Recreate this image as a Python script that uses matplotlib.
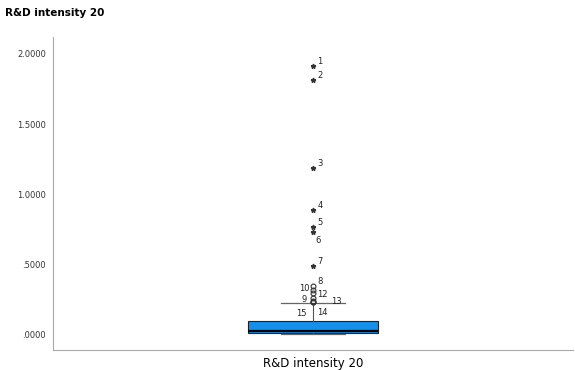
import matplotlib.pyplot as plt
from matplotlib.ticker import FuncFormatter

# box summary
var_name = "R&D intensity 20"
q1, median, q3 = 0.014, 0.028, 0.100
whisker_lo, whisker_hi = 0.005, 0.228

# outliers (o) and extremes (*) with case labels
extreme_ids = ["1", "2", "3", "4", "5", "6", "7"]
extreme_vals = [1.915, 1.815, 1.19, 0.89, 0.77, 0.73, 0.49]
outlier_ids = ["8", "10", "12", "9", "13", "14", "15"]
outlier_vals = [0.35, 0.32, 0.30, 0.26, 0.245, 0.237, 0.232]

# label offsets in points (dx, dy)
label_offsets = {
    "1": (3, 3), "2": (3, 3), "3": (3, 3), "4": (3, 3), "5": (3, 3),
    "6": (2, -6), "7": (3, 3), "8": (3, 3), "10": (-10, 1), "12": (3, -1),
    "9": (-8, -1), "13": (13, -1), "14": (3, -8), "15": (-12, -8),
}

fig = plt.figure(figsize=(5.75, 3.7), dpi=100)
ax = fig.add_axes([0.092, 0.054, 0.905, 0.846])

stats = [{
    "med": median, "q1": q1, "q3": q3,
    "whislo": whisker_lo, "whishi": whisker_hi, "fliers": [],
}]
ax.bxp(stats, positions=[1], widths=0.25, patch_artist=True, showfliers=False,
       boxprops=dict(facecolor="#1590ea", edgecolor="#222222", linewidth=0.8),
       medianprops=dict(color="black", linewidth=1.6),
       whiskerprops=dict(color="#555555", linewidth=0.8),
       capprops=dict(color="#666666", linewidth=0.9),
       capwidths=0.122)

ax.plot([1] * len(extreme_vals), extreme_vals, linestyle="none", marker="*",
        markersize=3.5, color="#333333")
ax.plot([1] * len(outlier_vals), outlier_vals, linestyle="none", marker="o",
        markersize=3.5, markerfacecolor="none", markeredgecolor="#333333",
        markeredgewidth=0.8)

for ids, vals in ((extreme_ids, extreme_vals), (outlier_ids, outlier_vals)):
    for i, v in zip(ids, vals):
        dx, dy = label_offsets[i]
        ax.annotate(i, (1, v), xytext=(dx, dy), textcoords="offset points",
                    fontsize=6, color="#222222", va="center", ha="left")

ax.set_xlim(0.5, 1.5)
ax.set_ylim(-0.107, 2.12)
ax.set_yticks([0, 0.5, 1.0, 1.5, 2.0])
ax.yaxis.set_major_formatter(FuncFormatter(lambda v, p: f"{v:.4f}".lstrip("0") if v < 1 else f"{v:.4f}"))
ax.set_xticks([1])
ax.set_xticklabels([var_name], fontsize=8.5)
ax.tick_params(axis="x", length=0, pad=5)
ax.tick_params(axis="y", length=0, labelsize=6, labelcolor="#333333", pad=5)
for side in ("top", "right"):
    ax.spines[side].set_visible(False)
for side in ("left", "bottom"):
    ax.spines[side].set_color("#aaaaaa")
    ax.spines[side].set_linewidth(0.8)

fig.text(0.008, 0.965, var_name, fontsize=7.5, fontweight="bold", va="center")

fig.savefig("out.png")
